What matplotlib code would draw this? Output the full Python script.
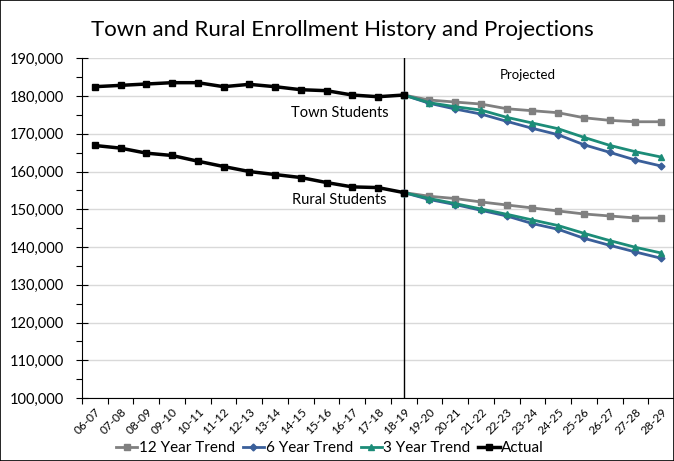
import numpy as np
import matplotlib
matplotlib.use("Agg")
import matplotlib.pyplot as plt
from matplotlib.ticker import FuncFormatter, MultipleLocator
from matplotlib.patches import Rectangle

plt.rcParams['font.family'] = ['Lato', 'DejaVu Sans']

years = ["06-07", "07-08", "08-09", "09-10", "10-11", "11-12", "12-13", "13-14",
         "14-15", "15-16", "16-17", "17-18", "18-19", "19-20", "20-21", "21-22",
         "22-23", "23-24", "24-25", "25-26", "26-27", "27-28", "28-29"]

# actual enrollment, 06-07 .. 18-19
town_actual = [182480, 182830, 183190, 183540, 183540, 182480, 183100, 182480,
               181680, 181420, 180270, 179820, 180270]
rural_actual = [166900, 166200, 164870, 164250, 162740, 161330, 160000, 159200,
                158410, 157080, 155930, 155750, 154430]

# projections, 18-19 .. 28-29 (start from last actual year)
town_12yr = [180270, 178940, 178410, 177880, 176640, 176110, 175580, 174250,
             173560, 173190, 173190]
town_6yr = [180270, 178070, 176560, 175230, 173300, 171440, 169750, 167100,
            165090, 163050, 161460]
town_3yr = [180270, 178230, 177170, 176290, 174360, 172850, 171340, 169060,
            166940, 165250, 163840]
rural_12yr = [154430, 153450, 152840, 151940, 151140, 150350, 149550, 148760,
              148230, 147700, 147700]
rural_6yr = [154430, 152570, 151250, 149740, 148230, 146210, 144700, 142320,
             140460, 138690, 137020]
rural_3yr = [154430, 152840, 151510, 150080, 148680, 147170, 145680, 143640,
             141710, 139930, 138420]

c12 = "#808080"
c6 = "#3A5F9A"
c3 = "#1C8C78"

fig = plt.figure(figsize=(6.74, 4.61), dpi=100)
ax = fig.add_axes([82/674, 1 - 398/461, 592/674, (398 - 58.3)/461])

x = np.arange(len(years))
xa = x[:13]
xp = x[12:]

ax.plot(xp, town_12yr, color=c12, lw=2, marker="s", ms=5, zorder=3)
ax.plot(xp, rural_12yr, color=c12, lw=2, marker="s", ms=5, zorder=3,
        label="12 Year Trend")
ax.plot(xp, town_6yr, color=c6, lw=2, marker="D", ms=3.5, zorder=4)
ax.plot(xp, rural_6yr, color=c6, lw=2, marker="D", ms=3.5, zorder=4,
        label="6 Year Trend")
ax.plot(xp, town_3yr, color=c3, lw=2, marker="^", ms=4.5, zorder=5)
ax.plot(xp, rural_3yr, color=c3, lw=2, marker="^", ms=4.5, zorder=5,
        label="3 Year Trend")
ax.plot(xa, town_actual, color="black", lw=2.5, marker="s", ms=5, zorder=6)
ax.plot(xa, rural_actual, color="black", lw=2.5, marker="s", ms=5, zorder=6,
        label="Actual")

ax.axvline(12, color="black", lw=1, zorder=2)

ax.set_xlim(-0.5, len(years) - 0.5)
ax.set_ylim(100000, 190000)
ax.yaxis.set_major_locator(MultipleLocator(10000))
ax.yaxis.set_minor_locator(MultipleLocator(5000))
ax.yaxis.set_major_formatter(FuncFormatter(lambda v, p: f"{int(v):,}"))
ax.grid(axis="y", color="#D9D9D9", lw=1, zorder=0)
ax.set_axisbelow(True)

ax.set_xticks(x)
ax.set_xticklabels(years, rotation=45, ha="right", va="top",
                   rotation_mode="anchor", fontsize=8.5)
ax.set_xticks(np.arange(-0.5, len(years)), minor=True)
ax.tick_params(axis="x", which="major", length=0, pad=6)
ax.tick_params(axis="x", which="minor", length=4, direction="out", width=0.8)
ax.tick_params(axis="y", which="major", length=8, direction="inout",
               width=0.8, labelsize=10.5, pad=9)
ax.tick_params(axis="y", which="minor", length=4, direction="out", width=0.8)

for s in ["top", "right"]:
    ax.spines[s].set_visible(False)
ax.spines["left"].set_linewidth(0.8)
ax.spines["bottom"].set_linewidth(0.8)

ax.text(9.5, 175600, "Town Students", fontsize=10.5, ha="center", va="center")
ax.text(9.5, 152450, "Rural Students", fontsize=10.5, ha="center", va="center")
ax.text(16.8, 185600, "Projected", fontsize=9.5, ha="center", va="center")

fig.text(342/674, 1 - 30/461, "Town and Rural Enrollment History and Projections",
         fontsize=16, ha="center", va="center")

fig.legend(loc="center", bbox_to_anchor=(330/674, 1 - 448/461), ncol=4,
           frameon=False, fontsize=11, handlelength=1.4, handletextpad=0.1,
           columnspacing=0.5, borderaxespad=0)

fig.patches.append(Rectangle((0, 0), 1, 1, transform=fig.transFigure,
                             fill=False, edgecolor="black", lw=1.2))

fig.savefig("out.png", dpi=100)
